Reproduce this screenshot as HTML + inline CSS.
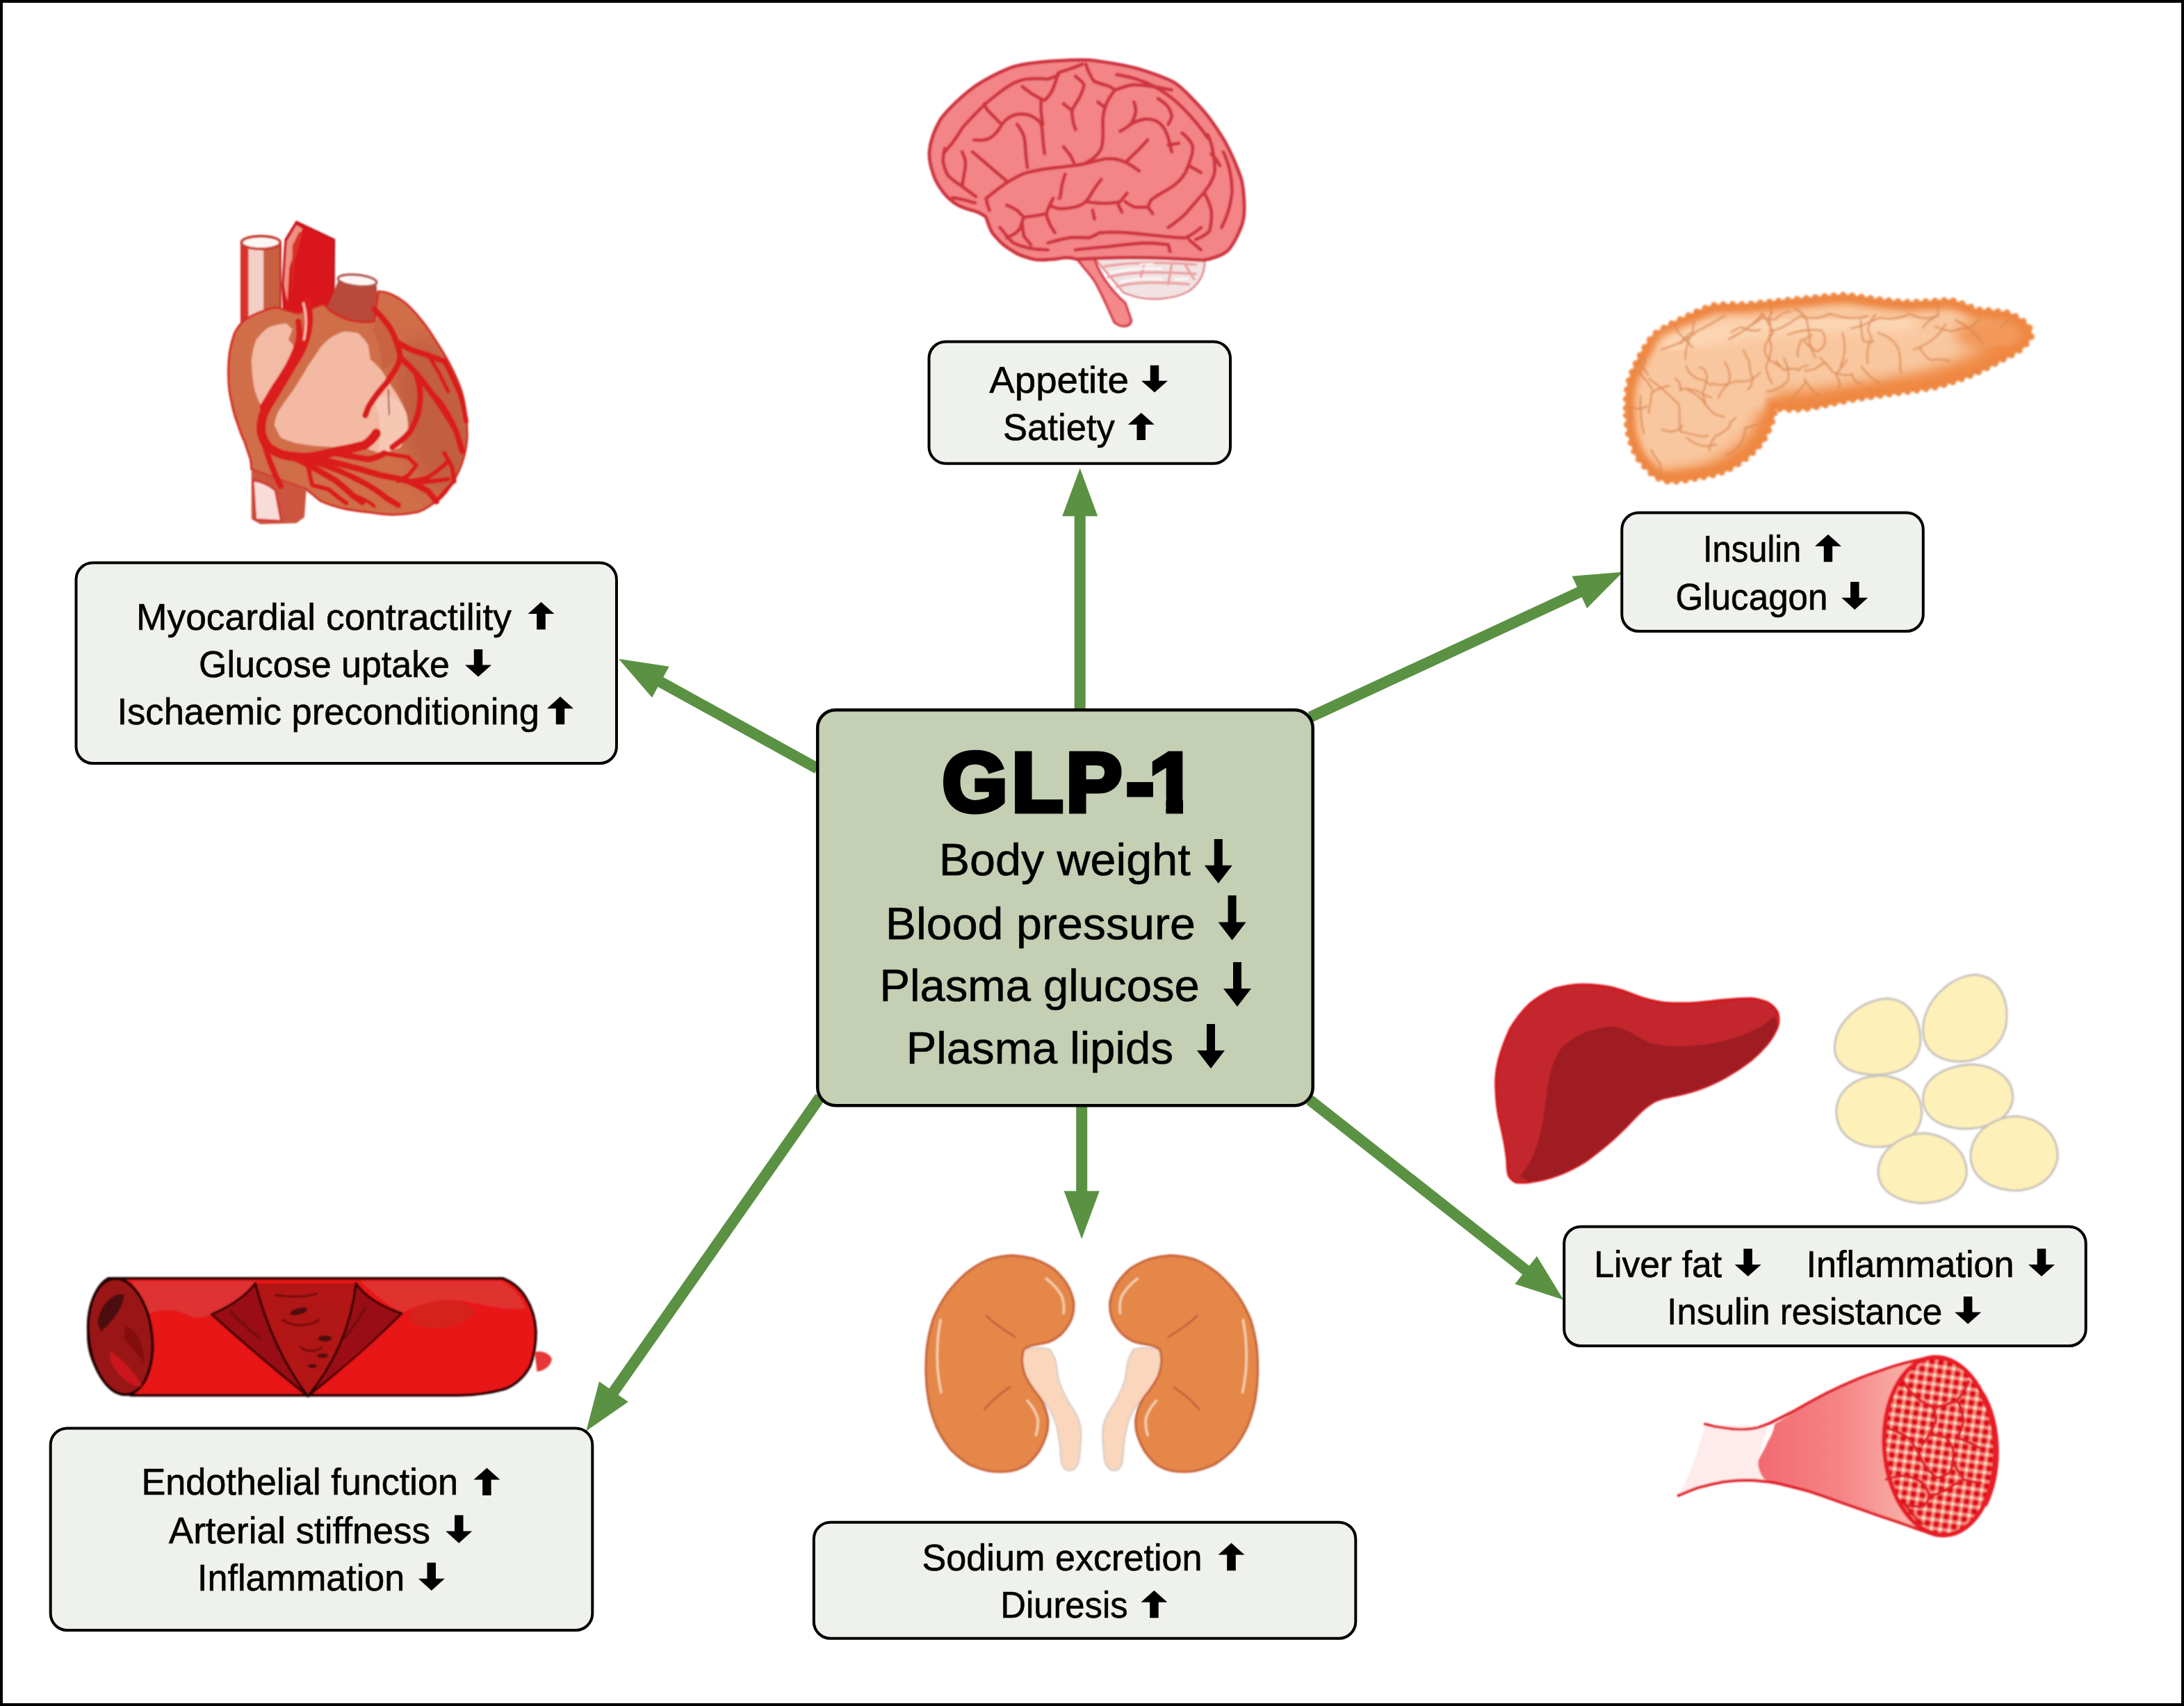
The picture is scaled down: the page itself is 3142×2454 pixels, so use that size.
<!DOCTYPE html>
<html lang="en"><head><meta charset="utf-8"><title>GLP-1 effects</title>
<style>
html,body{margin:0;padding:0;background:#fff;}
body{width:3142px;height:2454px;overflow:hidden;}
svg{display:block;}
text{font-family:"Liberation Sans",sans-serif;fill:#000;}
#labels text{stroke:#000;stroke-width:0.6px;}
</style></head><body>
<svg width="3142" height="2454" viewBox="0 0 3142 2454">
<rect x="0" y="0" width="3142" height="2454" fill="#fff"/>

<!-- 00_defs.svg -->
<defs>
<filter id="soft" x="-5%" y="-5%" width="110%" height="110%"><feGaussianBlur stdDeviation="1.3"/></filter>
<filter id="soft2" x="-5%" y="-5%" width="110%" height="110%"><feGaussianBlur stdDeviation="2.2"/></filter>
</defs>


<!-- 10_brain.svg -->
<g id="brain" filter="url(#soft)"><g transform="translate(1300,80) scale(0.24725)">
<!-- cerebellum -->
<path d="M1100,1165 L1750,1165 C1760,1250 1730,1320 1660,1370 C1580,1415 1440,1430 1340,1400 L1280,1380 Z" fill="#f1e3e3" stroke="#e27a80" stroke-width="10"/>
<g fill="none" stroke="#ec9da1" stroke-width="14" stroke-linecap="round">
<path d="M1150,1230 C1300,1200 1500,1200 1700,1215"/>
<path d="M1190,1290 C1330,1250 1520,1260 1700,1270"/>
<path d="M1240,1345 C1360,1310 1520,1320 1660,1330"/>
<path d="M1400,1210 L1380,1290 M1560,1215 L1540,1330 M1640,1220 L1690,1300"/>
</g>
<g fill="none" stroke="#ffffff" stroke-width="12" stroke-linecap="round" opacity="0.8">
<path d="M1200,1265 C1320,1235 1420,1235 1500,1240"/>
<path d="M1260,1320 C1340,1295 1420,1292 1500,1298"/>
<path d="M1380,1215 L1450,1210 M1580,1300 L1650,1300"/>
</g>
<!-- brain stem -->
<path d="M1000,1170 L1105,1165 C1130,1260 1200,1360 1290,1440 L1325,1540 C1322,1575 1270,1590 1225,1550 C1190,1470 1150,1380 1110,1310 C1070,1255 1030,1215 1000,1170 Z" fill="#f4888a" stroke="#d6404a" stroke-width="14" stroke-linejoin="round"/>
<!-- cerebrum -->
<path d="M150,560 C155,500 180,430 215,370 C260,310 340,235 400,190 C450,152 560,92 640,64 C720,42 820,34 900,30 C960,26 1030,24 1080,26 C1130,30 1270,52 1340,70 C1400,85 1530,130 1580,160 C1630,195 1720,290 1760,340 C1790,375 1850,465 1880,520 C1905,565 1950,670 1965,720 C1978,770 1990,900 1975,960 C1965,1005 1920,1100 1890,1130 C1860,1160 1790,1185 1740,1190 C1600,1180 1300,1165 1010,1185 C930,1160 900,1190 850,1185 C810,1190 770,1190 740,1180 C700,1170 670,1160 640,1140 C600,1115 575,1100 560,1080 C535,1055 520,1040 510,1020 C495,990 490,970 480,940 C450,915 430,910 400,900 C360,890 330,880 300,860 C265,835 240,810 220,780 C195,745 180,720 170,680 C155,640 148,600 150,560 Z" fill="#f38487" stroke="#cf3540" stroke-width="20" stroke-linejoin="round"/>
<g fill="none" stroke="#cf3540" stroke-width="20" stroke-linecap="round" stroke-linejoin="round">
<path d="M240,561 C250,545 265,530 278,516 C300,485 320,455 339,425 C358,400 380,378 400,357 C425,330 450,305 475,281 C500,260 525,240 551,220 C575,200 600,182 627,167 C655,152 682,142 711,137 C755,132 798,133 840,137 L900,114"/>
<path d="M286,827 C312,830 338,835 362,842 L415,857"/>
<path d="M1240,110 C1300,120 1380,140 1440,170 C1500,200 1560,240 1620,300 C1680,360 1730,420 1770,480"/>
<path d="M560,1000 C590,1030 600,1060 640,1090 C700,1120 760,1130 840,1130"/>
<path d="M480,830 C520,800 560,765 600,740 C640,715 680,690 720,680 C780,665 840,655 900,650 C950,645 1000,640 1050,630 C1100,620 1140,605 1180,600 C1220,598 1260,605 1290,620 C1320,635 1350,655 1370,670"/>
<path d="M1300,612 C1340,575 1390,525 1420,490"/>
<path d="M400,560 C460,610 540,680 600,730"/>
<path d="M410,490 C450,495 480,490 500,480 C530,465 545,445 560,420 C575,395 585,380 600,370 C625,350 655,340 680,340 C710,340 740,348 760,360 C780,372 795,385 800,400 C808,425 808,455 810,480 C812,510 816,540 820,570"/>
<path d="M470,280 C475,300 485,315 500,330 C520,350 540,370 560,390"/>
<path d="M660,400 C680,425 692,445 700,470 C708,500 708,530 710,560 C712,590 716,620 720,650"/>
<path d="M690,180 C715,200 735,215 760,230 C780,242 800,252 820,260 C845,240 860,215 870,190 C882,160 892,130 900,100"/>
<path d="M800,260 C798,285 798,305 800,330 C802,355 806,380 810,400"/>
<path d="M900,100 C920,92 940,86 960,80 C990,70 1015,60 1040,50"/>
<path d="M1060,50 C1068,75 1078,100 1090,120 C1095,132 1102,142 1110,150"/>
<path d="M1000,120 C1020,135 1040,150 1050,170 C1045,200 1032,225 1020,250 C1005,275 990,295 980,320 C978,350 985,375 990,400 L1000,430"/>
<path d="M930,280 L980,320"/>
<path d="M1110,150 C1140,162 1170,170 1200,180 L1230,200 C1210,225 1192,250 1180,280 C1170,305 1162,335 1160,360 C1158,395 1160,430 1160,460 C1160,490 1158,515 1150,540 C1138,565 1120,585 1100,600 L1050,630"/>
<path d="M1130,270 L1170,300"/>
<path d="M930,530 C945,548 958,565 970,580 L990,620"/>
<path d="M1230,200 C1265,188 1295,176 1330,170 C1370,168 1410,172 1450,180 C1490,186 1525,192 1560,200"/>
<path d="M1340,270 C1348,290 1352,310 1350,330 C1345,355 1335,380 1320,400 C1300,418 1280,430 1260,440"/>
<path d="M1320,400 C1345,385 1372,374 1400,370 C1425,368 1450,372 1470,380 C1492,392 1508,410 1520,430 C1535,460 1545,490 1550,520 L1560,560"/>
<path d="M1540,520 L1600,510"/>
<path d="M1480,250 C1505,265 1525,280 1540,300 C1552,320 1560,340 1560,360 L1540,400"/>
<path d="M1620,450 C1645,470 1668,495 1680,520 C1685,548 1680,575 1670,600 C1662,630 1652,655 1640,680 C1625,705 1605,730 1580,750 C1555,770 1528,785 1500,800 C1478,812 1458,825 1440,840 L1420,880"/>
<path d="M1660,640 L1730,680"/>
<path d="M1770,460 C1785,492 1795,525 1800,560 C1808,600 1812,640 1810,680 C1800,718 1782,750 1760,780 C1742,805 1720,828 1700,850 C1680,875 1660,898 1640,920 C1610,950 1575,975 1540,1000"/>
<path d="M1750,800 C1768,832 1782,865 1790,900 C1794,940 1790,980 1780,1020 C1758,1042 1730,1058 1700,1070"/>
<path d="M1860,560 C1878,598 1892,638 1900,680 C1908,720 1912,760 1910,800 C1906,835 1900,868 1890,900 C1880,935 1866,968 1850,1000"/>
<path d="M1790,570 C1810,590 1828,615 1840,640"/>
<path d="M940,690 C932,712 925,735 920,760 L910,830"/>
<path d="M1150,720 C1132,742 1115,765 1100,790 C1088,812 1075,832 1060,850 C1042,865 1022,875 1000,880 C965,888 932,892 900,890 C882,886 865,880 850,870 L870,830"/>
<path d="M850,870 L830,920 C790,930 745,935 700,940 C690,960 685,980 680,1000 C670,1018 656,1030 640,1040 L600,1060"/>
<path d="M600,870 C622,878 642,888 660,900 L690,930"/>
<path d="M830,920 C835,942 842,962 850,980 L880,1030"/>
<path d="M1060,850 C1100,856 1140,860 1180,860 C1208,858 1235,856 1260,850 L1300,800"/>
<path d="M1290,850 C1305,862 1322,872 1340,880 C1368,884 1395,884 1420,880 L1450,920"/>
<path d="M1100,900 L1110,950 M1250,870 L1270,910"/>
<path d="M840,1090 C880,1078 920,1068 960,1060 C1000,1056 1040,1058 1080,1060 C1102,1052 1122,1042 1140,1030 C1195,1026 1250,1026 1300,1030 C1368,1036 1435,1044 1500,1050 C1548,1055 1595,1060 1640,1060 C1672,1044 1704,1024 1730,1000"/>
<path d="M1000,1130 C1068,1122 1135,1116 1200,1110 C1268,1102 1335,1094 1400,1090 C1448,1090 1495,1094 1540,1100 L1550,1140"/>
<path d="M1660,1070 L1730,1130"/>
<path d="M240,540 C232,568 228,595 230,620 C236,650 246,678 260,700 C285,724 312,744 340,760"/>
<path d="M340,560 C350,580 358,600 360,620 C360,648 356,675 350,700 L340,760 L420,820"/>
<path d="M690,980 C692,1005 695,1028 700,1050 L740,1100"/>
<path d="M480,830 C485,860 492,885 500,900"/>
</g>
<circle cx="905" cy="830" r="12" fill="#d94a53"/>
</g></g>


<!-- 20_heart.svg -->
<g id="heart" filter="url(#soft)"><g transform="translate(300,290) scale(0.28728)">
<defs><filter id="hblur" x="-50%" y="-50%" width="200%" height="200%"><feGaussianBlur stdDeviation="45"/></filter></defs>
<!-- SVC tube -->
<path d="M165,210 L165,600 L360,600 L360,210 Z" fill="#c8603f" stroke="#c8251f" stroke-width="10"/>
<path d="M165,210 L165,600 L200,600 L200,230 Z" fill="#d8302a"/>
<path d="M200,235 L200,600 L275,580 L275,245 Z" fill="#f4cfc8"/>
<ellipse cx="262" cy="205" rx="97" ry="32" fill="#fdf6f4" stroke="#c83a30" stroke-width="14"/>
<!-- aorta -->
<path d="M385,190 L440,100 L630,190 L628,440 L600,600 L380,600 L370,420 Z" fill="#d8161b" stroke="#c01015" stroke-width="8" stroke-linejoin="round"/>
<path d="M392,200 L440,118 L470,135 L405,330 L395,500 L378,420 Z" fill="#f0a090" opacity="0.9"/>
<path d="M420,220 L455,150 L470,160 L430,300 L418,470 Z" fill="#d8302a"/>
<!-- pulmonary trunk -->
<path d="M650,395 L590,540 L640,640 L820,640 L850,560 L840,400 Z" fill="#b84a3a"/>
<ellipse cx="745" cy="395" rx="97" ry="28" fill="#fdf6f4" stroke="#b0524a" stroke-width="12" transform="rotate(6 745 395)"/>
<!-- heart body -->
<path id="hbody" d="M185,590 C230,560 290,540 330,530 C380,535 420,560 450,560 L560,520 C570,510 590,520 600,540 C680,600 760,610 830,600 L850,450 C900,450 960,480 1010,530 C1060,580 1110,650 1140,700 C1180,760 1230,850 1260,930 C1285,1000 1295,1100 1295,1180 C1290,1260 1265,1340 1220,1410 C1190,1460 1160,1490 1140,1500 C1100,1530 1070,1550 1040,1556 C1000,1564 950,1568 920,1568 C880,1566 830,1560 800,1555 C760,1550 710,1544 680,1538 C640,1528 590,1512 560,1498 L490,1440 L215,1340 C215,1320 212,1300 210,1290 C200,1260 190,1230 180,1200 C165,1170 155,1140 145,1110 C130,1070 120,1030 115,1000 C105,960 100,920 100,880 C98,840 100,800 105,760 C110,725 120,690 130,660 C145,630 165,605 185,590 Z" fill="#d06e4a" stroke="#d62a22" stroke-width="11" stroke-linejoin="round"/>
<clipPath id="hclip"><use href="#hbody"/></clipPath>
<!-- darker right side shading -->
<g clip-path="url(#hclip)"><ellipse cx="1130" cy="1080" rx="170" ry="400" fill="#b5523a" opacity="0.55" filter="url(#hblur)" transform="rotate(-12 1130 1080)"/></g>
<path d="M820,640 C850,700 870,780 870,850 C900,830 930,800 950,770 C935,700 900,630 850,580 Z" fill="#c76240" opacity="0.8"/>
<!-- IVC -->
<path d="M215,1340 L215,1590 L260,1615 L440,1610 L480,1580 L490,1440 Z" fill="#cc5540"/>
<path d="M222,1395 C260,1400 300,1415 335,1445 L365,1600 L235,1592 Z" fill="#f8dcd8" stroke="#d03a30" stroke-width="12" stroke-linejoin="round"/>
<!-- light areas -->
<path d="M240,690 C260,665 280,645 300,630 C330,618 360,612 390,610 L420,640 L400,690 L440,740 L430,800 C415,825 398,848 380,870 C360,900 340,930 320,960 C302,988 285,1015 270,1040 C255,1008 240,975 230,940 C222,895 217,848 215,800 C218,760 226,722 240,690 Z" fill="#f3bba5"/>
<path d="M600,690 C625,672 652,658 680,650 C705,650 730,654 750,660 C770,678 788,698 800,720 L810,790 C832,808 852,828 870,850 L900,900 L940,960 C960,992 978,1025 990,1060 C998,1090 1002,1120 1000,1150 C990,1180 978,1208 960,1230 C928,1245 895,1255 860,1260 C832,1252 805,1242 780,1230 C735,1235 688,1235 640,1230 C572,1228 505,1222 440,1210 C410,1202 384,1192 360,1180 L330,1120 C332,1095 340,1072 350,1050 C372,1015 396,982 420,950 C448,908 475,865 500,820 C522,790 542,760 560,730 Z" fill="#f3b9a3"/>
<path d="M830,990 C880,960 940,960 990,1060 C1000,1100 1000,1150 960,1230 C920,1250 880,1255 850,1240 C870,1160 860,1080 830,990 Z" fill="#f6c8b4"/>
<!-- red vessels -->
<g fill="none" stroke="#da1f1e" stroke-linecap="round" stroke-linejoin="round">
<path d="M490,500 C500,540 502,570 500,600 C498,640 490,670 480,700 C468,738 450,770 430,800 C410,835 390,868 370,900 C350,935 330,968 310,1000 C292,1028 278,1055 270,1080 C262,1110 262,1135 265,1160 C272,1190 285,1212 300,1230 C325,1250 352,1262 380,1270 C420,1278 460,1282 500,1280 C548,1274 595,1262 640,1250 C688,1242 735,1232 780,1220 C805,1205 825,1185 840,1160" stroke-width="46"/>
<path d="M450,600 C455,635 455,668 450,700 C438,742 420,782 400,820 C378,858 354,895 330,930 C310,965 290,998 270,1030" stroke-width="30"/>
<path d="M265,1160 C275,1202 288,1242 300,1280 C312,1315 326,1348 340,1380 L362,1425" stroke-width="30"/>
<path d="M400,1270 C442,1288 482,1308 520,1330 C562,1352 602,1375 640,1400 C668,1422 695,1445 720,1470 L770,1505" stroke-width="32"/>
<path d="M520,1300 C568,1315 615,1332 660,1350 C708,1372 755,1395 800,1420 C835,1442 868,1465 900,1490 L950,1520" stroke-width="30"/>
<path d="M560,1290 C615,1302 668,1315 720,1330 C768,1342 815,1356 860,1370 C908,1378 955,1388 1000,1400 C1035,1415 1068,1432 1100,1450 L1140,1500" stroke-width="32"/>
<path d="M640,1260 C695,1272 748,1282 800,1290 C830,1285 858,1275 880,1260" stroke-width="32"/>
<path d="M500,1330 C505,1362 512,1392 520,1420 C548,1428 575,1434 600,1440 C635,1468 660,1490 690,1510" stroke-width="23"/>
<path d="M830,540 C858,565 880,592 900,620 C918,645 930,672 940,700 C950,728 958,754 960,780 C955,805 944,828 930,850 L890,910 C872,930 855,950 840,970 C825,990 812,1010 800,1030 L785,1070" stroke-width="30"/>
<path d="M940,700 C962,715 985,728 1010,740 C1040,752 1070,762 1100,770 L1180,800" stroke-width="30"/>
<path d="M960,780 C988,805 1015,832 1040,860 C1065,888 1088,918 1110,950 C1135,982 1158,1015 1180,1050 C1202,1082 1222,1115 1240,1150 L1270,1250" stroke-width="30"/>
<path d="M1040,860 C1050,895 1058,928 1060,960 C1060,995 1056,1028 1050,1060 C1040,1092 1026,1122 1010,1150 C995,1170 978,1186 960,1200 L920,1230" stroke-width="30"/>
<path d="M1110,950 L1160,1000 C1182,1032 1202,1065 1220,1100 L1260,1200" stroke-width="23"/>
<path d="M1040,1320 C1028,1338 1015,1355 1000,1370 L950,1400" stroke-width="21"/>
<path d="M1180,1260 C1195,1282 1208,1305 1220,1330 L1230,1400" stroke-width="23"/>
<path d="M1000,1400 C1060,1410 1120,1400 1200,1390" stroke-width="23"/>

<path d="M1180,800 C1200,835 1216,868 1230,900 C1246,934 1260,967 1270,1000 L1290,1100" stroke-width="24"/>
<path d="M1100,770 C1118,798 1135,825 1150,850 L1200,950" stroke-width="20"/>
<path d="M1000,1400 C1035,1396 1068,1390 1100,1380 C1136,1356 1170,1330 1200,1300" stroke-width="22"/>
<path d="M880,1260 C920,1268 960,1274 1000,1280 L1040,1320" stroke-width="22"/>
<path d="M1140,1500 C1180,1450 1210,1420 1230,1400" stroke-width="18"/>
<path d="M720,1470 C760,1480 800,1500 830,1525" stroke-width="18"/>
</g>
<path d="M475,510 C490,560 492,620 478,690" fill="none" stroke="#f6c0b0" stroke-width="12" stroke-linecap="round"/>
<path d="M900,940 L905,1070" fill="none" stroke="#8a3a3a" stroke-width="6"/>
</g></g>


<!-- 30_pancreas.svg -->
<g id="pancreas" transform="translate(2300,400) scale(0.3022)">
<defs>
<path id="panc" d="M130,620 C128,580 132,540 140,500 C152,458 170,418 190,380 C210,340 235,302 260,270 C298,242 338,220 380,200 C432,175 485,150 540,130 C592,124 646,124 700,125 C750,120 800,114 850,110 C900,104 950,99 1000,95 C1056,89 1113,83 1170,80 C1220,85 1270,92 1320,100 C1372,106 1426,112 1480,115 C1546,113 1613,106 1680,105 C1722,117 1762,132 1800,150 C1850,153 1900,158 1950,165 C1985,180 2015,198 2040,220 C2055,238 2062,258 2060,280 C2048,302 2031,322 2010,340 C1975,362 1938,382 1900,400 C1862,422 1822,442 1780,460 C1722,484 1662,504 1600,520 C1534,532 1467,542 1400,550 C1333,560 1266,570 1200,580 C1133,594 1066,608 1000,620 C946,628 892,628 840,620 C838,648 830,675 820,700 C810,728 796,755 780,780 C757,810 730,836 700,860 C668,884 635,904 600,920 C562,934 522,944 480,950 C434,960 387,967 340,970 C310,966 283,955 260,940 C230,912 203,882 180,850 C163,815 150,778 140,740 C133,700 130,660 130,620 Z"/>
<clipPath id="pancclip"><use href="#panc"/></clipPath>
<filter id="pblur" x="-10%" y="-10%" width="120%" height="120%"><feGaussianBlur stdDeviation="28"/></filter>
<filter id="pblur3" x="-10%" y="-10%" width="120%" height="120%"><feGaussianBlur stdDeviation="16"/></filter>
<filter id="pblur2" x="-10%" y="-10%" width="120%" height="120%"><feGaussianBlur stdDeviation="5"/></filter>
</defs>
<g filter="url(#pblur2)">
<use href="#panc" fill="#ee8742" stroke="#ee8742" stroke-width="30" stroke-dasharray="1 43" stroke-linecap="round"/>
<use href="#panc" fill="#ee8742" stroke="#ee8742" stroke-width="6" stroke-linejoin="round"/>
<g clip-path="url(#pancclip)">
<rect x="0" y="0" width="2184" height="1059" fill="#f9c79f"/>
<use href="#panc" fill="none" stroke="#ee8540" stroke-width="84" filter="url(#pblur3)"/>
<path d="M840,640 C1000,630 1200,600 1400,565 C1600,535 1800,470 2010,350" fill="none" stroke="#ef8842" stroke-width="190" filter="url(#pblur)" opacity="0.9"/>
<path d="M820,640 C800,760 700,880 480,960 L300,980" fill="none" stroke="#ef8842" stroke-width="130" filter="url(#pblur)" opacity="0.85"/>
<path d="M300,330 C600,230 1000,200 1500,210" fill="none" stroke="#fcd9b8" stroke-width="90" filter="url(#pblur)" opacity="0.9"/>
<ellipse cx="1900" cy="270" rx="200" ry="90" fill="#ef8842" filter="url(#pblur)" opacity="0.75"/>
<g fill="none" stroke="#dc8850" stroke-width="8" stroke-linecap="round" stroke-linejoin="round" opacity="0.9">
<path d="M300,340 C360,320 420,300 470,250 C520,230 560,200 600,180"/>
<path d="M620,290 C680,260 740,220 780,170 C800,200 820,230 830,260 C810,290 790,310 790,350 C800,390 830,400 860,420"/>
<path d="M830,250 C880,240 930,200 960,180 C1010,200 1060,190 1100,170"/>
<path d="M900,270 C950,250 1000,240 1060,250 C1090,290 1080,330 1040,350 C1010,330 990,320 980,300"/>
<path d="M1100,170 C1160,190 1220,200 1280,180"/>
<path d="M1200,240 C1260,230 1300,200 1340,190 C1400,200 1440,190 1480,170 C1520,190 1560,200 1610,180"/>
<path d="M1160,260 C1180,320 1170,380 1150,420"/>
<path d="M1330,260 C1390,280 1420,310 1430,350 C1440,390 1430,420 1440,450"/>
<path d="M1500,340 C1560,320 1620,280 1650,220"/>
<path d="M1700,200 C1760,230 1800,270 1830,310"/>
<path d="M600,400 C620,430 630,460 620,500 C600,520 580,540 570,570"/>
<path d="M540,500 C580,520 620,500 660,490 C700,500 740,480 770,450"/>
<path d="M880,380 C900,420 910,450 900,490 C870,520 840,540 800,540"/>
<path d="M240,480 C300,520 340,560 380,600 C390,650 380,690 390,730"/>
<path d="M390,730 C440,740 480,760 520,750"/>
<path d="M300,720 C340,740 380,730 400,700"/>
<path d="M200,560 C195,620 200,680 215,740"/>
<path d="M420,760 C460,800 520,810 560,790"/>
<path d="M980,480 C1000,520 1020,540 1050,560"/>
<path d="M1250,420 C1280,460 1300,480 1340,500"/>
<path d="M769,245 Q728,259 679,233 Q642,248 631,258"/>
<path d="M1209,906 Q1201,861 1145,861 Q1097,837 1087,831"/>
<path d="M509,603 Q505,582 494,550 Q503,534 515,476 Q512,429 480,424"/>
<path d="M1081,405 Q1069,401 1032,431 Q1019,439 980,440"/>
<path d="M751,697 Q713,713 699,709 Q691,759 675,792 Q633,839 605,841"/>
<path d="M1292,530 Q1305,570 1328,573 Q1382,599 1398,594 Q1415,634 1446,635"/>
<path d="M455,266 Q426,277 428,309 Q412,328 413,385"/>
<path d="M1909,664 Q1951,637 1955,580 Q1945,527 1923,518 Q1886,503 1865,534"/>
<path d="M455,204 Q446,237 448,257 Q400,284 391,313"/>
<path d="M1054,379 Q1092,413 1111,445 Q1169,471 1208,456 Q1210,497 1252,503"/>
<path d="M1833,415 Q1845,469 1828,497 Q1862,507 1865,547 Q1865,586 1836,629"/>
<path d="M1281,406 Q1272,343 1291,308 Q1307,296 1282,249 Q1279,219 1317,174"/>
<path d="M1604,743 Q1548,760 1533,733 Q1491,686 1492,672"/>
<path d="M230,610 Q189,633 150,612 Q163,662 147,690"/>
<path d="M1544,236 Q1568,197 1616,179 Q1613,121 1617,100"/>
<path d="M824,500 Q792,439 798,413 Q816,382 823,323 Q803,272 821,266"/>
<path d="M1146,520 Q1151,491 1129,460 Q1152,431 1182,390"/>
<path d="M1112,695 Q1087,741 1060,749 Q1007,717 984,690 Q958,681 916,678"/>
<path d="M731,222 Q777,191 777,188 Q836,206 847,192 Q871,161 911,161"/>
<path d="M1494,136 Q1453,121 1410,127 Q1399,118 1416,72 Q1408,54 1432,10"/>
<path d="M1726,681 Q1755,705 1777,709 Q1799,693 1828,720 Q1809,779 1832,802"/>
<path d="M1750,497 Q1727,546 1741,593 Q1742,593 1788,623 Q1800,646 1834,669"/>
<path d="M812,135 Q835,161 811,186 Q821,230 816,258"/>
<path d="M1797,925 Q1812,985 1793,1024 Q1772,1041 1795,1095"/>
<path d="M1528,332 Q1558,385 1587,391 Q1614,381 1672,394"/>
<path d="M843,393 Q854,409 884,439 Q919,424 954,438 Q955,422 998,415"/>
<path d="M221,373 Q227,406 195,451 Q236,498 255,530"/>
<path d="M1700,860 Q1691,830 1675,768 Q1668,753 1639,692"/>
<path d="M335,155 Q288,107 285,107 Q254,75 227,86"/>
<path d="M1814,196 Q1778,228 1766,236 Q1723,239 1681,254 Q1646,249 1600,230"/>
<path d="M448,331 Q419,301 392,273 Q376,260 361,227 Q372,196 333,159"/>
<path d="M336,513 Q292,518 252,547 Q249,577 238,643"/>
<path d="M1914,230 Q1936,219 1985,168 Q1980,140 1976,117 Q1947,114 1935,77"/>
<path d="M1546,816 Q1536,853 1547,902 Q1541,948 1548,1002"/>
<path d="M268,204 Q284,161 254,124 Q255,56 263,36 Q299,11 330,15"/>
<path d="M1879,461 Q1817,470 1800,437 Q1760,470 1740,480"/>
<path d="M654,664 Q616,688 622,710 Q580,744 556,752 Q525,790 527,823"/>
<path d="M850,792 Q866,832 890,870 Q913,894 957,871"/>
<path d="M1096,643 Q1118,648 1151,639 Q1204,635 1210,667"/>
<path d="M1570,788 Q1614,794 1616,767 Q1642,733 1708,733 Q1755,763 1779,779"/>
<path d="M1012,578 Q1034,595 1041,632 Q1073,635 1086,676"/>
<path d="M1134,604 Q1142,673 1146,693 Q1127,726 1133,757"/>
<path d="M233,462 Q227,437 203,421 Q182,356 189,339"/>
<path d="M945,687 Q944,751 972,769 Q1000,801 1056,806 Q1089,796 1153,813"/>
<path d="M1391,907 Q1422,902 1444,906 Q1483,902 1502,918 Q1499,901 1527,870"/>
<path d="M1031,379 Q998,310 1005,283 Q1002,261 993,213 Q978,160 933,148"/>
<path d="M536,569 Q482,550 475,539 Q408,516 387,536 Q395,499 364,477"/>
<path d="M1923,632 Q1950,682 1954,723 Q2002,740 2017,797 Q2025,854 2004,869"/>
<path d="M422,532 Q464,549 497,584 Q497,595 540,636 Q546,651 598,661"/>
<path d="M1964,853 Q1992,853 2028,803 Q2050,806 2075,769 Q2122,764 2142,731"/>
<path d="M689,342 Q690,351 716,395 Q719,459 733,472 Q728,525 708,529"/>
<path d="M1044,800 Q1029,759 1052,748 Q1085,775 1130,764 Q1177,764 1179,804"/>
<path d="M1308,301 Q1260,308 1257,292 Q1248,240 1248,201"/>
<path d="M322,146 Q299,168 286,185 Q288,207 270,237 Q236,262 220,280"/>
<path d="M938,837 Q973,850 1018,818 Q1010,796 1043,766 Q999,709 1000,688"/>
<path d="M902,595 Q921,594 938,551 Q984,506 984,492"/>
<path d="M1896,930 Q1836,934 1817,917 Q1800,891 1748,852"/>
<path d="M537,513 Q500,479 474,482 Q422,453 416,418"/>
<path d="M249,816 Q261,844 292,881 Q294,913 301,951 Q319,989 365,1001"/>
<path d="M1014,269 Q983,296 966,292 Q939,354 949,373"/>
</g>
</g>
</g>
</g>


<!-- 40_liver.svg -->
<g id="liver" filter="url(#soft)"><g transform="translate(2120,1380) scale(0.40293)">
<path d="M80,460 C78,425 82,392 90,360 C100,322 114,285 130,250 C150,215 174,185 200,160 C228,136 258,118 290,105 C322,96 356,91 390,90 C424,90 458,94 490,100 C522,108 552,118 580,130 C612,142 646,150 680,155 C720,158 760,158 800,155 C834,152 867,148 900,145 C930,142 960,140 990,140 C1012,142 1032,147 1050,155 C1066,164 1078,176 1085,190 C1090,207 1090,224 1085,240 C1076,262 1064,282 1050,300 C1032,322 1012,342 990,360 C962,382 932,402 900,420 C868,438 835,453 800,465 C768,476 734,484 700,490 C678,494 658,500 640,510 C618,524 598,541 580,560 C555,588 528,615 500,640 C468,668 435,695 400,720 C368,740 335,757 300,770 C268,782 234,790 200,795 C183,797 166,797 150,795 C138,789 130,781 125,770 C121,754 120,737 120,720 C118,696 114,673 110,650 C104,620 97,590 90,560 C84,527 81,494 80,460 Z" fill="#c4282f" stroke="#d4161c" stroke-width="9" stroke-linejoin="round"/>
<path d="M165,775 C190,745 208,714 220,680 C234,641 244,601 250,560 C256,513 262,466 270,420 C278,382 292,349 310,320 C335,294 366,274 400,260 C432,248 466,241 500,240 C522,244 542,251 560,260 C580,271 600,283 620,295 C652,305 686,310 720,310 C764,310 808,306 850,300 C888,293 925,283 960,270 C988,258 1015,245 1040,230 C1054,221 1066,211 1075,200 L1085,240 C1076,262 1064,282 1050,300 C1032,322 1012,342 990,360 C962,382 932,402 900,420 C868,438 835,453 800,465 C768,476 734,484 700,490 C678,494 658,500 640,510 C618,524 598,541 580,560 C555,588 528,615 500,640 C468,668 435,695 400,720 C368,740 335,757 300,770 C268,782 234,790 200,795 Z" fill="#9e1d24"/>
</g></g>
<g id="fat" filter="url(#soft)"><g transform="translate(2120,1380) scale(0.40293)" fill="#fdf0b9" stroke="#cbc5bd" stroke-width="8">
<path d="M1290,300 C1300,220 1380,150 1470,140 C1560,140 1600,220 1595,300 C1585,380 1520,410 1440,412 C1350,412 1280,380 1290,300 Z"/>
<path d="M1605,240 C1610,150 1700,60 1790,55 C1880,60 1915,150 1900,240 C1880,320 1810,365 1730,365 C1650,360 1600,320 1605,240 Z"/>
<path d="M1295,540 C1300,460 1370,418 1450,415 C1540,420 1600,470 1600,550 C1595,630 1530,668 1440,670 C1350,665 1295,620 1295,540 Z"/>
<path d="M1605,490 C1610,420 1690,378 1780,375 C1870,380 1930,430 1925,500 C1915,570 1840,605 1750,605 C1660,600 1600,560 1605,490 Z"/>
<path d="M1445,750 C1450,680 1530,622 1610,620 C1700,630 1765,690 1760,770 C1745,840 1680,870 1590,870 C1500,860 1440,820 1445,750 Z"/>
<path d="M1775,690 C1785,610 1860,562 1940,560 C2030,570 2090,630 2085,710 C2070,790 2000,828 1920,825 C1830,815 1770,770 1775,690 Z"/>
</g></g>


<!-- 50_muscle.svg -->
<g id="muscle" filter="url(#soft)"><g transform="translate(2380,1930) scale(0.24725)">
<defs>
<pattern id="mdots" x="0" y="0" width="52" height="52" patternUnits="userSpaceOnUse" patternTransform="rotate(12)">
<rect width="52" height="52" fill="#f48a80"/>
<circle cx="0" cy="0" r="9" fill="#fdf0d6"/><circle cx="52" cy="0" r="9" fill="#fdf0d6"/><circle cx="0" cy="52" r="9" fill="#fdf0d6"/><circle cx="52" cy="52" r="9" fill="#fdf0d6"/>
<circle cx="26" cy="26" r="18" fill="#de0815"/>
</pattern>
<linearGradient id="mgrad" x1="0" y1="0" x2="1" y2="0">
<stop offset="0" stop-color="#f26a70"/><stop offset="0.45" stop-color="#f58587"/><stop offset="0.85" stop-color="#f9b3aa"/><stop offset="1" stop-color="#f9b3aa"/>
</linearGradient>
</defs>
<!-- tendon -->
<path d="M295,480 L660,490 L600,700 L645,805 C560,800 480,805 400,815 C300,835 210,865 140,895 C200,800 250,650 295,480 Z" fill="#fdeceb"/>
<!-- body -->
<path d="M700,478 C800,420 900,355 1000,300 C1100,250 1250,190 1400,140 L1620,90 L1680,1125 C1600,1115 1500,1080 1450,1060 C1350,1028 1200,975 1100,940 C1000,905 850,850 700,820 L640,800 C610,760 600,720 605,690 C625,650 650,610 660,580 C685,545 695,510 700,478 Z" fill="url(#mgrad)"/>
<!-- cross-section -->
<g transform="rotate(-4 1660 608)">
<ellipse cx="1660" cy="608" rx="322" ry="518" fill="url(#mdots)" stroke="#e81c28" stroke-width="26"/>
<path d="M1930,330 C2010,500 2010,760 1900,960" fill="none" stroke="#e81c28" stroke-width="34" stroke-linecap="round"/>
</g>
<g fill="none" stroke="#e01a26" stroke-width="16" stroke-linecap="round" stroke-linejoin="round">
<path d="M1440,200 C1450,240 1470,275 1500,300 C1535,335 1575,362 1620,380 C1668,378 1716,364 1760,340 C1790,308 1814,270 1830,230"/>
<path d="M1340,500 C1390,512 1438,532 1480,560 C1515,602 1542,650 1560,700 C1582,735 1608,765 1640,790 C1670,788 1698,778 1720,760 C1735,722 1742,682 1740,640 C1732,610 1718,582 1700,560 C1668,548 1634,541 1600,540 L1560,600"/>
<path d="M1350,800 C1388,788 1425,782 1460,780 C1496,788 1530,802 1560,820 C1580,845 1594,872 1600,900 C1592,924 1578,945 1560,960 C1528,962 1494,958 1460,950"/>
<path d="M1620,380 C1632,405 1640,432 1640,460 L1600,540"/>
<path d="M1760,340 C1782,378 1796,418 1800,460 C1794,496 1780,530 1760,560 C1808,575 1855,596 1900,620"/>
<path d="M1740,700 C1756,735 1776,768 1800,800 C1834,810 1868,818 1900,820"/>
<path d="M1600,900 C1634,890 1668,876 1700,860 L1800,800"/>
<path d="M1460,950 C1490,990 1520,1030 1560,1060"/>
</g>
<!-- outlines -->
<g fill="none" stroke="#e01a26" stroke-width="16" stroke-linecap="round">
<path d="M295,480 C330,490 365,497 400,500 C440,508 480,511 520,510 C548,509 575,506 600,500 C628,492 655,482 680,470 C720,450 760,430 800,410 C866,372 933,335 1000,300 C1066,268 1133,238 1200,210 C1266,185 1333,162 1400,140 C1452,125 1506,112 1560,100"/>
<path d="M140,895 C176,879 213,864 250,850 C300,836 350,824 400,815 C453,808 506,805 560,805 C607,808 654,813 700,820 C767,835 834,852 900,870 C967,892 1034,916 1100,940 C1167,963 1234,986 1300,1010 C1350,1027 1400,1044 1450,1060 L1560,1100 L1640,1125"/>
</g>
</g></g>


<!-- 60_vessel.svg -->
<g id="vessel" filter="url(#soft)"><g transform="translate(100,1800) scale(0.32967)">
<path d="M2030,440 C2060,430 2095,445 2105,470 C2100,500 2075,520 2040,525 Z" fill="#e63838"/>
<path d="M170,118 L1890,118 C1935,135 1968,165 1990,200 C2018,245 2033,296 2035,350 C2035,404 2027,455 2010,500 C1984,548 1946,582 1900,600 C1836,618 1768,627 1700,628 L270,628 C150,600 80,480 82,360 C88,240 110,150 170,118 Z" fill="#e81318" stroke="#2a0304" stroke-width="12" stroke-linejoin="round"/>
<!-- upper lighter bands -->
<path d="M270,130 L810,130 C770,190 700,230 620,275 C560,300 540,290 500,270 C450,250 400,255 350,270 Z" fill="#d84a44" opacity="0.6"/>
<path d="M1270,130 L1885,130 C1940,160 1975,200 1990,250 C1900,260 1800,230 1700,215 C1600,205 1520,235 1450,270 C1380,230 1320,180 1270,130 Z" fill="#d84a44" opacity="0.55"/>
<ellipse cx="1620" cy="275" rx="140" ry="60" fill="#d42420" opacity="0.9" transform="rotate(-6 1620 275)"/>
<!-- left end -->
<g transform="rotate(-7 222 372)">
<ellipse cx="222" cy="372" rx="138" ry="254" fill="#9a1316" stroke="#1e0203" stroke-width="12"/>
<path d="M130,300 C150,230 200,180 260,190 C250,250 200,300 140,340 Z" fill="#3e0608" opacity="0.85"/>
<path d="M250,330 C300,350 320,420 310,500 C290,460 260,420 235,380 Z" fill="#7a0e10" opacity="0.7"/>
<path d="M170,430 C220,470 270,540 290,600 C240,600 190,540 165,470 Z" fill="#d2181c" opacity="0.85"/>
</g>
<!-- cut-away -->
<path d="M620,275 C700,240 770,195 810,140 L1250,140 C1290,200 1370,245 1450,270 L1040,632 Z" fill="#9a1115"/>
<path d="M810,140 L1250,140 C1230,320 1160,500 1040,632 C940,500 850,320 810,140 Z" fill="#b41519"/>
<path d="M880,180 C1000,230 1100,240 1200,200 C1180,300 1150,420 1080,540 C980,420 920,300 880,180 Z" fill="#b01418" opacity="0.8"/>
<g fill="none" stroke="#5a080b" stroke-width="10" stroke-linecap="round" opacity="0.7"><path d="M900,190 C960,200 1020,200 1080,185"/><path d="M930,300 C980,330 1030,330 1090,300"/><path d="M1010,420 C1040,440 1070,440 1100,420"/><path d="M700,260 C740,300 780,340 830,380"/><path d="M1290,250 C1260,300 1230,340 1200,380"/></g>
<g fill="#3a0608" opacity="0.85">
<ellipse cx="1000" cy="262" rx="38" ry="14" transform="rotate(-15 1000 262)"/>
<ellipse cx="1115" cy="380" rx="30" ry="13"/>
<ellipse cx="1105" cy="455" rx="24" ry="10"/>
<ellipse cx="1060" cy="500" rx="20" ry="9"/>
</g>
<g fill="none" stroke="#1e0203" stroke-width="9" stroke-linecap="round">
<path d="M620,275 C700,240 770,195 810,140"/>
<path d="M1250,140 C1290,200 1370,245 1450,270"/>
<path d="M620,275 C760,400 900,520 1040,632"/>
<path d="M1450,270 C1320,400 1180,520 1040,632"/>
<path d="M810,140 C860,330 940,500 1040,632"/>
<path d="M1250,140 C1230,330 1150,500 1040,632"/>
</g>
</g></g>


<!-- 70_kidney.svg -->
<g id="kidneys" filter="url(#soft)"><g transform="translate(1300,1780) scale(0.24725)">
<defs>
<g id="kid">
<path d="M700,650 C728,645 755,641 780,640 C805,641 830,645 850,650 C866,672 878,696 885,720 C892,754 896,788 900,820 C910,855 924,888 940,920 C958,955 978,988 1000,1020 C1014,1046 1024,1073 1030,1100 C1033,1133 1033,1166 1030,1200 C1028,1234 1025,1268 1020,1300 C1014,1322 1004,1338 990,1350 C976,1356 963,1357 950,1355 C936,1347 926,1335 920,1320 C914,1287 911,1254 910,1220 C906,1180 899,1140 890,1100 C880,1065 866,1032 850,1000 C832,975 812,952 790,930 C768,908 748,885 730,860 C716,832 706,802 700,770 C694,747 691,723 690,700 Z" fill="#f9d6bc" stroke="#d8cdc6" stroke-width="9" stroke-linejoin="round"/>
<path d="M640,105 C681,108 721,115 760,125 C800,140 837,158 870,180 C901,207 928,237 950,270 C970,304 984,341 990,380 C992,415 987,448 975,480 C961,510 943,537 920,560 C896,582 869,599 840,610 C814,617 787,622 760,625 C738,630 718,638 700,650 C692,672 689,696 690,720 C692,752 699,782 710,810 C724,838 741,865 760,890 C779,912 796,935 810,960 C825,992 835,1025 840,1060 C842,1091 839,1121 830,1150 C820,1182 806,1212 790,1240 C770,1270 746,1297 720,1320 C690,1340 656,1354 620,1360 C580,1365 540,1365 500,1360 C458,1352 418,1338 380,1320 C340,1295 303,1265 270,1230 C239,1190 212,1147 190,1100 C170,1052 155,1002 145,950 C136,900 131,850 130,800 C128,746 130,693 135,640 C142,585 154,532 170,480 C191,427 218,377 250,330 C283,286 320,246 360,210 C400,177 444,150 490,130 C538,114 588,106 640,105 Z" fill="#e4874a" stroke="#c7643a" stroke-width="13" stroke-linejoin="round"/>
<g fill="none" stroke-linecap="round">
<path d="M215,480 C200,555 195,628 195,700 C196,770 204,838 218,900" stroke="#f6cfae" stroke-width="14"/>
<path d="M830,240 C868,268 898,302 920,340 C932,372 936,406 930,440" stroke="#f6cfae" stroke-width="14"/>
<path d="M720,950 C748,980 768,1014 780,1050 C784,1084 781,1118 770,1150" stroke="#f6cfae" stroke-width="14"/>
<path d="M480,455 C505,478 532,500 560,520 C589,541 619,561 650,580" stroke="#c05a3a" stroke-width="10"/>
<path d="M620,870 C592,888 565,908 540,930 C515,952 492,975 470,1000" stroke="#c05a3a" stroke-width="10"/>
</g>
</g>
</defs>
<use href="#kid"/>
<use href="#kid" transform="translate(2190,0) scale(-1,1)"/>
</g></g>


<g id="arrows">
<polygon fill="#5a9143" points="1561.7,1022.0 1561.7,742.5 1579.2,742.5 1553.7,673.5 1528.2,742.5 1545.7,742.5 1545.7,1022.0"/>
<polygon fill="#5a9143" points="1179.9,1098.5 954.3,974.0 962.7,958.7 890.0,947.7 938.1,1003.4 946.5,988.0 1172.1,1112.5"/>
<polygon fill="#5a9143" points="1888.4,1038.8 2275.7,859.1 2283.0,875.0 2334.9,822.8 2261.6,828.7 2268.9,844.6 1881.6,1024.2"/>
<polygon fill="#5a9143" points="1173.4,1573.4 876.4,1997.3 862.0,1987.3 843.3,2058.4 903.8,2016.5 889.5,2006.5 1186.6,1582.6"/>
<polygon fill="#5a9143" points="1548.2,1590.0 1548.2,1713.3 1530.7,1713.3 1556.2,1782.3 1581.7,1713.3 1564.2,1713.3 1564.2,1590.0"/>
<polygon fill="#5a9143" points="1879.1,1588.3 2190.2,1833.3 2179.4,1847.1 2249.4,1869.7 2211.0,1807.0 2200.1,1820.7 1888.9,1575.7"/>
</g>
<g id="boxes">
<rect x="1176.2" y="1021.2" width="712.5" height="569.0" rx="26" ry="26" fill="#c4cfb3" stroke="#000" stroke-width="4.5"/>
<rect x="109.5" y="809.5" width="777.5" height="288.5" rx="24" ry="24" fill="#eff2ec" stroke="#000" stroke-width="4"/>
<rect x="1336.5" y="491.5" width="433.5" height="175.2" rx="24" ry="24" fill="#eff2ec" stroke="#000" stroke-width="4"/>
<rect x="2333.3" y="737.5" width="433.5" height="170.5" rx="24" ry="24" fill="#eff2ec" stroke="#000" stroke-width="4"/>
<rect x="2250.2" y="1764.5" width="750.6" height="171.5" rx="24" ry="24" fill="#eff2ec" stroke="#000" stroke-width="4"/>
<rect x="72.7" y="2054.4" width="779.6" height="290.6" rx="24" ry="24" fill="#eff2ec" stroke="#000" stroke-width="4"/>
<rect x="1170.8" y="2189.7" width="779.5" height="167.1" rx="24" ry="24" fill="#eff2ec" stroke="#000" stroke-width="4"/>
</g>
<g id="labels">
<clipPath id="glpclip"><rect x="1300" y="1040" width="402" height="108"/><rect x="1300" y="1147" width="355" height="60"/><rect x="1677.5" y="1147" width="24.5" height="60"/></clipPath>
<text x="1355.5 1455.5 1533.4 1620 1653" y="1167.4" font-size="121" font-weight="bold" style="stroke-width:7px" stroke-linejoin="miter" clip-path="url(#glpclip)">GLP-1</text>
<text x="1350.7" y="1259.4" font-size="65.4" font-weight="normal" textLength="362.0" lengthAdjust="spacingAndGlyphs">Body weight</text>
<polygon fill="#000" points="1752.8,1270.7 1772.8,1244.7 1758.8,1244.7 1758.8,1207.0 1746.8,1207.0 1746.8,1244.7 1732.8,1244.7"/>
<text x="1273.8" y="1350.6" font-size="65.4" font-weight="normal" textLength="446.2" lengthAdjust="spacingAndGlyphs">Blood pressure</text>
<polygon fill="#000" points="1772.6,1352.5 1792.6,1326.5 1778.6,1326.5 1778.6,1288.0 1766.6,1288.0 1766.6,1326.5 1752.6,1326.5"/>
<text x="1265.5" y="1439.5" font-size="65.4" font-weight="normal" textLength="460.3" lengthAdjust="spacingAndGlyphs">Plasma glucose</text>
<polygon fill="#000" points="1780.0,1448.0 1800.0,1422.0 1786.0,1422.0 1786.0,1384.0 1774.0,1384.0 1774.0,1422.0 1760.0,1422.0"/>
<text x="1303.8" y="1529.5" font-size="65.4" font-weight="normal" textLength="384.2" lengthAdjust="spacingAndGlyphs">Plasma lipids</text>
<polygon fill="#000" points="1742.0,1537.0 1762.0,1511.0 1748.0,1511.0 1748.0,1473.0 1736.0,1473.0 1736.0,1511.0 1722.0,1511.0"/>
<text x="196.0" y="905.5" font-size="54" font-weight="normal" textLength="540.0" lengthAdjust="spacingAndGlyphs">Myocardial contractility</text>
<polygon fill="#000" points="778.5,866.0 797.5,883.0 784.8,883.0 784.8,905.5 772.2,905.5 772.2,883.0 759.5,883.0"/>
<text x="286.0" y="973.5" font-size="54" font-weight="normal" textLength="361.0" lengthAdjust="spacingAndGlyphs">Glucose uptake</text>
<polygon fill="#000" points="688.0,973.5 707.0,956.5 694.2,956.5 694.2,934.0 681.8,934.0 681.8,956.5 669.0,956.5"/>
<text x="168.5" y="1042.0" font-size="54" font-weight="normal" textLength="607.5" lengthAdjust="spacingAndGlyphs">Ischaemic preconditioning</text>
<polygon fill="#000" points="806.0,1002.0 825.0,1019.2 812.2,1019.2 812.2,1042.0 799.8,1042.0 799.8,1019.2 787.0,1019.2"/>
<text x="1423.3" y="565.0" font-size="54" font-weight="normal" textLength="200.5" lengthAdjust="spacingAndGlyphs">Appetite</text>
<polygon fill="#000" points="1661.0,564.5 1680.0,547.7 1667.2,547.7 1667.2,525.5 1654.8,525.5 1654.8,547.7 1642.0,547.7"/>
<text x="1443.0" y="632.5" font-size="54" font-weight="normal" textLength="160.8" lengthAdjust="spacingAndGlyphs">Satiety</text>
<polygon fill="#000" points="1641.8,593.8 1660.8,610.7 1648.0,610.7 1648.0,633.0 1635.5,633.0 1635.5,610.7 1622.8,610.7"/>
<text x="2450.0" y="808.0" font-size="54" font-weight="normal" textLength="141.3" lengthAdjust="spacingAndGlyphs">Insulin</text>
<polygon fill="#000" points="2630.0,768.8 2649.0,785.8 2636.2,785.8 2636.2,808.3 2623.8,808.3 2623.8,785.8 2611.0,785.8"/>
<text x="2410.5" y="877.0" font-size="54" font-weight="normal" textLength="219.0" lengthAdjust="spacingAndGlyphs">Glucagon</text>
<polygon fill="#000" points="2668.3,877.0 2687.3,859.8 2674.6,859.8 2674.6,837.0 2662.1,837.0 2662.1,859.8 2649.3,859.8"/>
<text x="2293.2" y="1836.9" font-size="54" font-weight="normal" textLength="184.0" lengthAdjust="spacingAndGlyphs">Liver fat</text>
<polygon fill="#000" points="2514.7,1836.1 2533.7,1819.0 2520.9,1819.0 2520.9,1796.3 2508.4,1796.3 2508.4,1819.0 2495.7,1819.0"/>
<text x="2598.5" y="1836.9" font-size="54" font-weight="normal" textLength="299.2" lengthAdjust="spacingAndGlyphs">Inflammation</text>
<polygon fill="#000" points="2937.1,1836.1 2956.1,1819.0 2943.3,1819.0 2943.3,1796.3 2930.8,1796.3 2930.8,1819.0 2918.1,1819.0"/>
<text x="2398.3" y="1904.5" font-size="54" font-weight="normal" textLength="396.1" lengthAdjust="spacingAndGlyphs">Insulin resistance</text>
<polygon fill="#000" points="2831.2,1904.5 2850.2,1887.5 2837.4,1887.5 2837.4,1865.0 2824.9,1865.0 2824.9,1887.5 2812.2,1887.5"/>
<text x="203.4" y="2150.1" font-size="54" font-weight="normal" textLength="455.6" lengthAdjust="spacingAndGlyphs">Endothelial function</text>
<polygon fill="#000" points="700.4,2111.5 719.4,2128.4 706.6,2128.4 706.6,2150.9 694.1,2150.9 694.1,2128.4 681.4,2128.4"/>
<text x="242.8" y="2219.8" font-size="54" font-weight="normal" textLength="376.1" lengthAdjust="spacingAndGlyphs">Arterial stiffness</text>
<polygon fill="#000" points="660.2,2219.8 679.2,2202.5 666.5,2202.5 666.5,2179.6 654.0,2179.6 654.0,2202.5 641.2,2202.5"/>
<text x="284.1" y="2287.9" font-size="54" font-weight="normal" textLength="298.1" lengthAdjust="spacingAndGlyphs">Inflammation</text>
<polygon fill="#000" points="620.8,2287.9 639.8,2270.7 627.0,2270.7 627.0,2247.8 614.5,2247.8 614.5,2270.7 601.8,2270.7"/>
<text x="1326.5" y="2259.2" font-size="54" font-weight="normal" textLength="403.1" lengthAdjust="spacingAndGlyphs">Sodium excretion</text>
<polygon fill="#000" points="1771.5,2219.6 1790.5,2236.6 1777.8,2236.6 1777.8,2259.2 1765.2,2259.2 1765.2,2236.6 1752.5,2236.6"/>
<text x="1439.2" y="2327.3" font-size="54" font-weight="normal" textLength="183.5" lengthAdjust="spacingAndGlyphs">Diuresis</text>
<polygon fill="#000" points="1660.4,2287.7 1679.4,2304.7 1666.7,2304.7 1666.7,2327.3 1654.2,2327.3 1654.2,2304.7 1641.4,2304.7"/>
</g>
<rect x="2" y="2" width="3138" height="2450" fill="none" stroke="#000" stroke-width="4"/>
</svg></body></html>
